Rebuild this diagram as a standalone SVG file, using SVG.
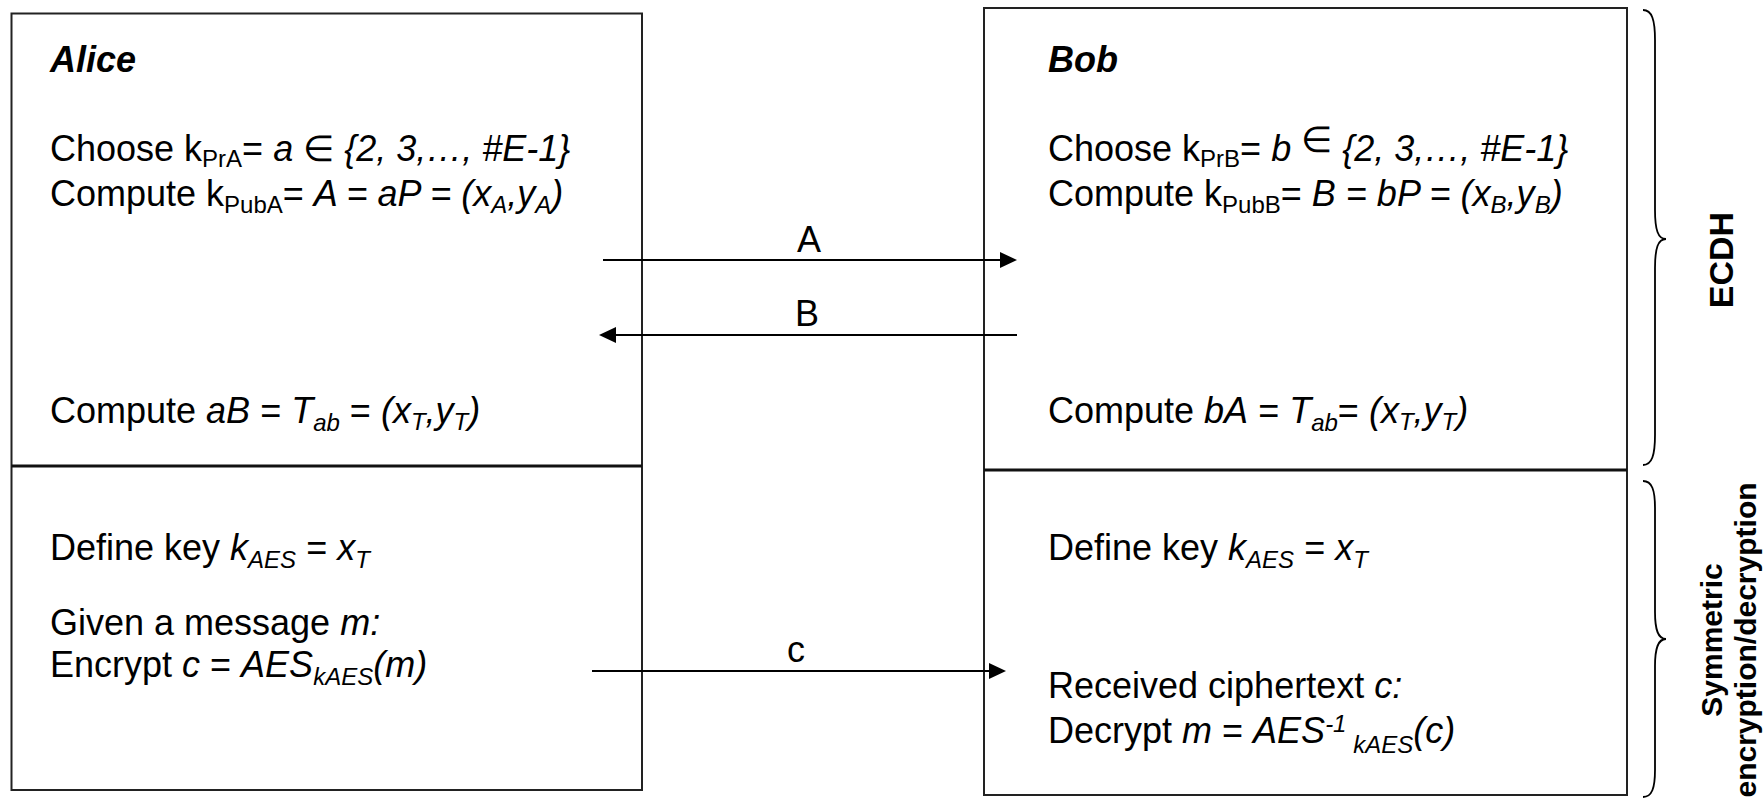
<svg xmlns="http://www.w3.org/2000/svg" width="1763" height="809" viewBox="0 0 1763 809">
<style>
.t{font-family:"Liberation Sans",Arial,sans-serif;font-size:36px;fill:#000}
.i{font-style:italic}
.bi{font-weight:bold;font-style:italic}
.s{font-size:24px}
.lbl{font-family:"Liberation Sans",Arial,sans-serif;font-size:36px;fill:#000;text-anchor:middle}
.box{fill:#fff;stroke:#222;stroke-width:2}
.div{stroke:#111;stroke-width:3}
.conn{stroke:#000;stroke-width:2;fill:none}
.brace{fill:none;stroke:#000;stroke-width:1.8}
.side{font-family:"Liberation Sans",Arial,sans-serif;font-weight:bold;fill:#000;text-anchor:middle}
</style>
<defs>
<marker id="ah" markerUnits="userSpaceOnUse" viewBox="0 0 18 16" markerWidth="18" markerHeight="16" refX="0" refY="8" orient="auto">
<path d="M0,0 L17,8 L0,16 z" fill="#000"/>
</marker>
</defs>
<rect width="1763" height="809" fill="#fff"/>

<g id="alice">
<rect class="box" x="11.5" y="13.5" width="630.5" height="776.5"/>
<line class="div" x1="11.5" y1="466" x2="642" y2="466"/>
<text class="t bi" x="50" y="72">Alice</text>
<text class="t" x="50" y="161">Choose k<tspan class="s" dy="6">PrA</tspan><tspan dy="-6">= </tspan><tspan class="i">a</tspan> ∈ <tspan class="i">{2, 3,…, #E-1}</tspan></text>
<text class="t" x="50" y="206">Compute k<tspan class="s" dy="7">PubA</tspan><tspan dy="-7">= </tspan><tspan class="i">A = aP = (x<tspan class="s" dy="7">A</tspan><tspan dy="-7">,y</tspan><tspan class="s" dy="7">A</tspan><tspan dy="-7">)</tspan></tspan></text>
<text class="t" x="50" y="423">Compute <tspan class="i">aB</tspan> = <tspan class="i">T<tspan class="s" dy="8">ab</tspan></tspan><tspan dy="-8"> = </tspan><tspan class="i">(x<tspan class="s" dy="7">T</tspan><tspan dy="-7">,y</tspan><tspan class="s" dy="7">T</tspan><tspan dy="-7">)</tspan></tspan></text>
<text class="t" x="50" y="560">Define key <tspan class="i">k<tspan class="s" dy="8">AES</tspan></tspan><tspan dy="-8"> = </tspan><tspan class="i">x<tspan class="s" dy="8">T</tspan></tspan></text>
<text class="t" x="50" y="635">Given a message <tspan class="i">m:</tspan></text>
<text class="t" x="50" y="677">Encrypt <tspan class="i">c</tspan> = <tspan class="i">AES<tspan class="s" dy="8">kAES</tspan><tspan dy="-8">(m)</tspan></tspan></text>
</g>

<g id="bob">
<rect class="box" x="984" y="8" width="643" height="787"/>
<line class="div" x1="984" y1="470" x2="1627" y2="470"/>
<text class="t bi" x="1048" y="72">Bob</text>
<text class="t" x="1048" y="161">Choose k<tspan class="s" dy="6">PrB</tspan><tspan dy="-6">= </tspan><tspan class="i">b</tspan> <tspan dy="-9">∈</tspan> <tspan class="i" dy="9">{2, 3,…, #E-1}</tspan></text>
<text class="t" x="1048" y="206">Compute k<tspan class="s" dy="7">PubB</tspan><tspan dy="-7">= </tspan><tspan class="i">B = bP = (x<tspan class="s" dy="7">B</tspan><tspan dy="-7">,y</tspan><tspan class="s" dy="7">B</tspan><tspan dy="-7">)</tspan></tspan></text>
<text class="t" x="1048" y="423">Compute <tspan class="i">bA</tspan> = <tspan class="i">T<tspan class="s" dy="8">ab</tspan></tspan><tspan dy="-8">= </tspan><tspan class="i">(x<tspan class="s" dy="7">T</tspan><tspan dy="-7">,y</tspan><tspan class="s" dy="7">T</tspan><tspan dy="-7">)</tspan></tspan></text>
<text class="t" x="1048" y="560">Define key <tspan class="i">k<tspan class="s" dy="8">AES</tspan></tspan><tspan dy="-8"> = </tspan><tspan class="i">x<tspan class="s" dy="8">T</tspan></tspan></text>
<text class="t" x="1048" y="698">Received ciphertext <tspan class="i">c:</tspan></text>
<text class="t" x="1048" y="743">Decrypt <tspan class="i">m</tspan> = <tspan class="i">AES<tspan class="s" dy="-11">-1</tspan><tspan class="s" dy="21"> kAES</tspan><tspan dy="-10">(c)</tspan></tspan></text>
</g>

<g id="connectors">
<line class="conn" x1="603" y1="260" x2="1000" y2="260" marker-end="url(#ah)"/>
<text class="lbl" x="809" y="252">A</text>
<line class="conn" x1="1017" y1="335" x2="616" y2="335" marker-end="url(#ah)"/>
<text class="lbl" x="807" y="326">B</text>
<line class="conn" x1="592" y1="671" x2="989" y2="671" marker-end="url(#ah)"/>
<text class="lbl" x="796" y="662">c</text>
</g>

<g id="ecdh">
<path class="brace" d="M1643,10 C1652,10 1655,20 1655,40 L1655,210 C1655,230 1658,239 1666,239 C1658,239 1655,248 1655,268 L1655,435 C1655,455 1652,465 1643,465"/>
<text class="side" font-size="34" transform="translate(1733,260) rotate(-90)">ECDH</text>
</g>

<g id="symmetric">
<path class="brace" d="M1643,481 C1652,481 1655,490 1655,508 L1655,612 C1655,630 1658,639 1666,639 C1658,639 1655,648 1655,666 L1655,770 C1655,788 1652,797 1643,797"/>
<text class="side" font-size="30" transform="translate(1722,640) rotate(-90)">Symmetric</text>
<text class="side" font-size="30" transform="translate(1756,640) rotate(-90)">encryption/decryption</text>
</g>
</svg>
